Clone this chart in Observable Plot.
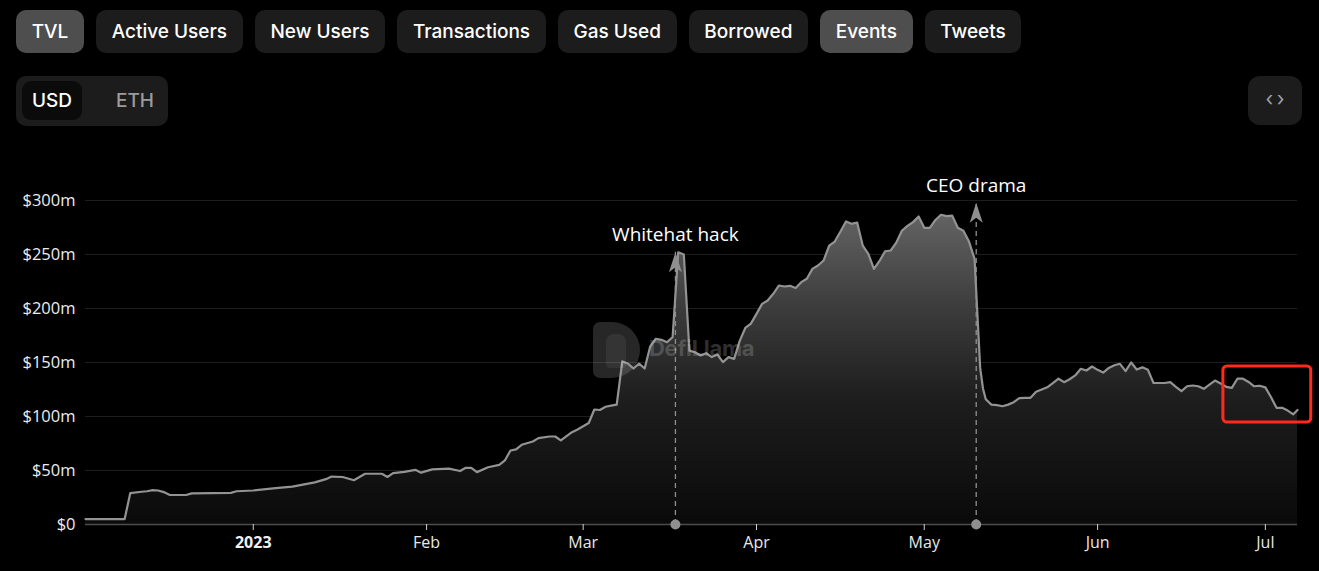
<!DOCTYPE html>
<html>
<head>
<meta charset="utf-8">
<script src="https://cdn.jsdelivr.net/npm/d3@7"></script>
<script src="https://cdn.jsdelivr.net/npm/@observablehq/plot@0.6"></script>
<style>
  html, body { margin: 0; padding: 0; background: #000; }
  body { width: 1319px; height: 571px; position: relative; overflow: hidden; font-family: Inter, "Noto Sans", sans-serif; }
  .tabs { position: absolute; top: 10px; left: 16px; display: flex; gap: 12px; }
  .tab { height: 43px; line-height: 43px; padding: 0 15.7px; border-radius: 10px; background: #1c1c1c; color: #fff; font-size: 19px; font-weight: 500; white-space: nowrap; }
  .tab.on { background: #4e4e4e; }
  .toggle { position: absolute; top: 76px; left: 16px; width: 152px; height: 50px; border-radius: 10px; background: #1c1c1c; }
  .toggle .usd { position: absolute; left: 6px; top: 5px; width: 60px; height: 39px; line-height: 39px; border-radius: 9px; background: #0b0b0b; color: #fff; font-size: 19px; font-weight: 500; text-align: center; }
  .toggle .eth { position: absolute; left: 100px; top: 5px; height: 39px; line-height: 39px; color: #9c9c9c; font-size: 19px; font-weight: 500; }
  .embed { position: absolute; top: 76px; left: 1248px; width: 54px; height: 49px; border-radius: 12px; background: #1c1c1c; color: #a0a0a0; font-size: 20px; text-align: center; line-height: 47px; }
  #chart { position: absolute; top: 140px; left: 0; }
  .wm { position: absolute; left: 593px; top: 322px; pointer-events: none; opacity: 0.25; }
  .wm .icon { position: absolute; left: 0; top: 0; width: 47px; height: 56px; border-radius: 7px 28px 28px 7px; background: #9a9a9a; }
  .wm .icon .face { position: absolute; left: 13px; top: 12px; width: 20px; height: 34px; border-radius: 8px 8px 4px 4px; background: #d0d0d0; }
  .wm .txt { position: absolute; left: 56px; top: 13px; font-family: Inter, sans-serif; font-weight: 700; font-size: 22px; color: #bdbdbd; letter-spacing: -0.3px; }
</style>
</head>
<body>
<div class="tabs">
  <div class="tab on">TVL</div>
  <div class="tab">Active Users</div>
  <div class="tab">New Users</div>
  <div class="tab">Transactions</div>
  <div class="tab">Gas Used</div>
  <div class="tab">Borrowed</div>
  <div class="tab on">Events</div>
  <div class="tab">Tweets</div>
</div>
<div class="toggle"><div class="usd">USD</div><div class="eth">ETH</div></div>
<div class="embed">&lsaquo;&thinsp;&rsaquo;</div>
<div id="chart"></div>
<div class="wm"><div class="icon"><div class="face"></div></div><div class="txt">DefiLlama</div></div>
<script>
// ---- data (TVL in $ millions) ----
const dates = [
  "2022-12-02","2022-12-09","2022-12-10","2022-12-12","2022-12-13","2022-12-14","2022-12-15","2022-12-16","2022-12-17",
  "2022-12-20","2022-12-21","2022-12-28","2022-12-29","2023-01-01","2023-01-05","2023-01-08","2023-01-12","2023-01-14",
  "2023-01-15","2023-01-17","2023-01-19","2023-01-21","2023-01-24","2023-01-25","2023-01-26","2023-01-28","2023-01-30",
  "2023-01-31","2023-02-02","2023-02-05","2023-02-07","2023-02-08","2023-02-09","2023-02-10","2023-02-12","2023-02-14",
  "2023-02-15","2023-02-16","2023-02-17","2023-02-18","2023-02-20","2023-02-21","2023-02-23","2023-02-24","2023-02-25",
  "2023-02-27","2023-02-28","2023-03-01","2023-03-02","2023-03-03","2023-03-04","2023-03-05","2023-03-06","2023-03-07",
  "2023-03-08","2023-03-09","2023-03-10","2023-03-11","2023-03-12","2023-03-13","2023-03-14","2023-03-15","2023-03-16",
  "2023-03-17","2023-03-18","2023-03-19","2023-03-20","2023-03-21","2023-03-22","2023-03-23","2023-03-24","2023-03-25",
  "2023-03-26","2023-03-27","2023-03-28","2023-03-29","2023-03-30","2023-03-31","2023-04-01","2023-04-02","2023-04-03",
  "2023-04-04","2023-04-05","2023-04-06","2023-04-07","2023-04-08","2023-04-09","2023-04-10","2023-04-11","2023-04-12",
  "2023-04-13","2023-04-14","2023-04-15","2023-04-16","2023-04-17","2023-04-18","2023-04-19","2023-04-20","2023-04-21",
  "2023-04-22","2023-04-23","2023-04-24","2023-04-25","2023-04-26","2023-04-27","2023-04-28","2023-04-29","2023-04-30",
  "2023-05-01","2023-05-02","2023-05-03","2023-05-04","2023-05-05","2023-05-06","2023-05-07","2023-05-08","2023-05-09",
  "2023-05-10","2023-05-10T12:00","2023-05-11","2023-05-11T12:00","2023-05-12","2023-05-13","2023-05-14","2023-05-15",
  "2023-05-16","2023-05-17","2023-05-18","2023-05-19","2023-05-20","2023-05-21","2023-05-22","2023-05-23","2023-05-24",
  "2023-05-25","2023-05-26","2023-05-27","2023-05-28","2023-05-29","2023-05-30","2023-05-31","2023-06-01","2023-06-02",
  "2023-06-03","2023-06-04","2023-06-05","2023-06-06","2023-06-07","2023-06-08","2023-06-09","2023-06-10","2023-06-11",
  "2023-06-12","2023-06-13","2023-06-14","2023-06-15","2023-06-16","2023-06-17","2023-06-18","2023-06-19","2023-06-20",
  "2023-06-21","2023-06-22","2023-06-23","2023-06-24","2023-06-25","2023-06-26","2023-06-27","2023-06-28","2023-06-29",
  "2023-06-30","2023-07-01","2023-07-02","2023-07-03","2023-07-04","2023-07-05","2023-07-06","2023-07-06T18:00"
];
const tvlValues = [
  5,5,29,30.3,30.8,31.8,31.5,30,27.5,
  27.3,28.8,29.3,30.8,31.5,33.6,35,39,42,
  44.4,44,41,47,47,44,47.5,48.8,50.6,
  48,51,51.8,49.5,52.5,52.5,48.5,53,55.2,
  59.3,68.5,69.5,73.8,76.9,80,81.5,81.5,77.8,
  85.5,88,91,94,106.5,106,109,110,111,
  151,149,144.4,149,144.4,165,172,171,168.8,
  173.5,252,250,161,159.5,156.5,158.6,155,157.4,
  150.3,155,153.4,170,182,186,195,204.3,207.4,
  213.6,221.3,220.4,221,219,224.4,227.5,236.7,239.8,
  244.4,258.3,262,271,280.6,278.4,279.6,258.3,250.6,
  236.7,244,253,253.7,261,272,276.5,280,285.2,
  274.7,274.7,282,286.8,285.5,286,274.7,272,262,
  246,195,145,126,116,111,110.5,109.5,
  111,113.3,117,117.3,117.3,123,125,127,131,
  135,131.8,134.5,138,144.2,142.6,146.3,143.2,140.7,
  145,147.5,148.8,142,150,143.5,145.5,143.2,131,
  131,131,131.8,127.5,123.5,128,128.7,128,125.6,
  129.5,133.3,130.5,127.5,126.5,135,135,132,128,
  128.5,127,118,108,108,105.5,102,106
];
const eventDates = ["2023-03-17T12:00", "2023-05-10T07:00"];
const eventLabels = ["Whitehat hack", "CEO drama"];
const eventTips = [252, 298];
const monthTicks = ["2023-01-01","2023-02-01","2023-03-01","2023-04-01","2023-05-01","2023-06-01","2023-07-01"];
const monthLabels = ["2023","Feb","Mar","Apr","May","Jun","Jul"];
const yTicks = [0, 50, 100, 150, 200, 250, 300];
const xStart = "2022-12-02", xEnd = "2023-07-06T18:00";
const highlightFrom = ["2023-06-23T12:00"], highlightTo = ["2023-07-09T05:00"];
const highlightLow = [94.4], highlightHigh = [146.3];

// ---- build tables ----
const toDate = s => new Date(s.length === 10 ? s + "T00:00Z" : s + "Z");
const tvl = dates.map((d, i) => ({date: toDate(d), value: tvlValues[i]}));
const events = eventDates.map((d, i) => ({date: toDate(d), label: eventLabels[i], tip: eventTips[i]}));
const ticks = monthTicks.map(toDate);
const labelOf = new Map(ticks.map((t, i) => [+t, monthLabels[i]]));
const highlight = highlightFrom.map((f, i) => ({x1: toDate(f), x2: toDate(highlightTo[i]), y1: highlightLow[i], y2: highlightHigh[i]}));

const arrowHead = {
  draw(ctx) {
    ctx.moveTo(0, 0);
    ctx.lineTo(6.5, 20);
    ctx.lineTo(0, 15);
    ctx.lineTo(-6.5, 20);
    ctx.closePath();
  }
};

const gradientDefs = () => {
  const ns = "http://www.w3.org/2000/svg";
  const defs = document.createElementNS(ns, "defs");
  const g = document.createElementNS(ns, "linearGradient");
  g.setAttribute("id", "tvlGrad");
  g.setAttribute("x1", "0"); g.setAttribute("y1", "0");
  g.setAttribute("x2", "0"); g.setAttribute("y2", "1");
  [[0, "#636363"], [0.3, "#3c3c3c"], [0.6, "#1d1d1d"], [1, "#0a0a0a"]].forEach(([o, c]) => {
    const s = document.createElementNS(ns, "stop");
    s.setAttribute("offset", o); s.setAttribute("stop-color", c);
    g.appendChild(s);
  });
  defs.appendChild(g);
  return defs;
};

const chart = Plot.plot({
  width: 1319,
  height: 431,
  marginLeft: 85,
  marginRight: 22,
  marginTop: 60,
  marginBottom: 47,
  style: {background: "transparent", color: "#e8e8e8", fontFamily: "'Open Sans', sans-serif", overflow: "visible"},
  x: {type: "utc", domain: [toDate(xStart), toDate(xEnd)], axis: null},
  y: {domain: [0, 300], axis: null},
  marks: [
    gradientDefs,
    Plot.gridY(yTicks, {stroke: "#1e1e1e", strokeOpacity: 1}),
    Plot.areaY(tvl, {x: "date", y: "value", fill: "url(#tvlGrad)"}),
    Plot.lineY(tvl, {x: "date", y: "value", stroke: "#939393", strokeWidth: 2.2}),
    Plot.ruleY([0], {stroke: "#4d4d4d", strokeWidth: 1.5}),
    Plot.axisY({ticks: yTicks, tickSize: 0, tickPadding: 10, fontSize: 16.5, fill: "#ececec",
      tickFormat: d => d === 0 ? "$0" : `$${d}m`}),
    Plot.axisX({ticks: ticks.slice(1), tickSize: 6, tickPadding: 6, fontSize: 16, stroke: "#d0d0d0", fill: "#e8e8e8",
      tickFormat: d => labelOf.get(+d)}),
    Plot.axisX({ticks: ticks.slice(0, 1), tickSize: 6, tickPadding: 6, fontSize: 16, fontWeight: "bold", stroke: "#d0d0d0", fill: "#f0f0f0",
      tickFormat: d => labelOf.get(+d)}),
    Plot.ruleX(events, {x: "date", y1: 0, y2: "tip", stroke: "#8f8f8f", strokeWidth: 1.3, strokeDasharray: "5,4"}),
    Plot.dot(events, {x: "date", y: () => 0, r: 5, fill: "#8f8f8f"}),
    Plot.dot(events, {x: "date", y: "tip", symbol: arrowHead, fill: "#8f8f8f"}),
    Plot.text(events, {x: "date", y: "tip", text: "label", dy: -17, fill: "#ffffff", fontSize: 19, fontWeight: 500}),
    Plot.rect(highlight, {x1: "x1", x2: "x2", y1: "y1", y2: "y2", fill: "none", stroke: "#ff2a1a", strokeWidth: 3, rx: 4})
  ]
});
document.getElementById("chart").appendChild(chart);
</script>
</body>
</html>
